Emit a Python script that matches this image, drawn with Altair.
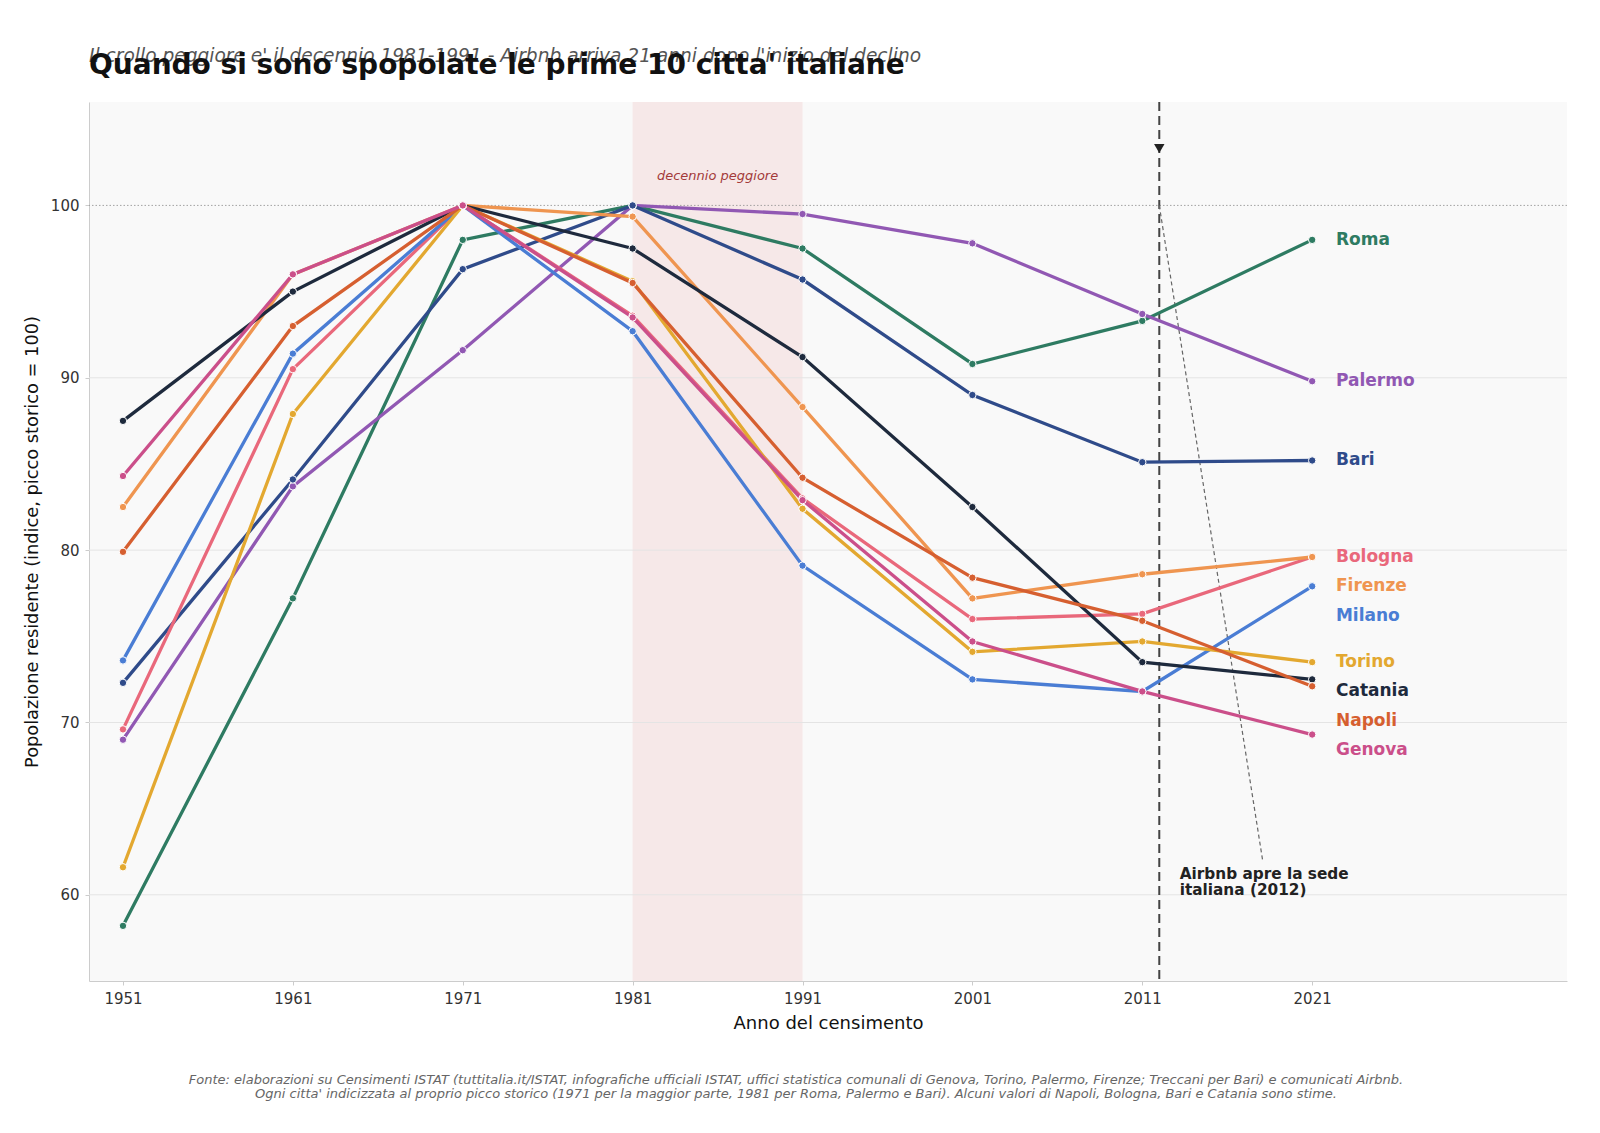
import altair as alt
import pandas as pd

# Census years and population index (historic peak = 100) per city
years = [1951, 1961, 1971, 1981, 1991, 2001, 2011, 2021]

cities = ["Roma", "Palermo", "Bari", "Bologna", "Firenze", "Milano",
          "Torino", "Catania", "Napoli", "Genova"]

colors = ["#2e7b62", "#9158b3", "#2f4b8a", "#e9687b", "#ef9550", "#4a7dd4",
          "#e3a830", "#1e2a3d", "#d65f30", "#cb4f8a"]

roma = [58.2, 77.2, 98.0, 100.0, 97.5, 90.8, 93.3, 98.0]
palermo = [69.0, 83.7, 91.6, 100.0, 99.5, 97.8, 93.7, 89.8]
bari = [72.3, 84.1, 96.3, 100.0, 95.7, 89.0, 85.1, 85.2]
bologna = [69.6, 90.5, 100.0, 93.6, 83.0, 76.0, 76.3, 79.6]
firenze = [82.5, 96.0, 100.0, 99.35, 88.3, 77.2, 78.6, 79.6]
milano = [73.6, 91.4, 100.0, 92.7, 79.1, 72.5, 71.8, 77.9]
torino = [61.6, 87.9, 100.0, 95.6, 82.4, 74.1, 74.7, 73.5]
catania = [87.5, 95.0, 100.0, 97.5, 91.2, 82.5, 73.5, 72.5]
napoli = [79.9, 93.0, 100.0, 95.5, 84.2, 78.4, 75.9, 72.1]
genova = [84.3, 96.0, 100.0, 93.5, 82.9, 74.7, 71.8, 69.3]

series = [roma, palermo, bari, bologna, firenze, milano,
          torino, catania, napoli, genova]

gridlines = [60, 70, 80, 90]
y_ticks = [60, 70, 80, 90, 100]
peak_line = [100]
worst_decade = [1981, 1991]
airbnb_year = 2012

title = "Quando si sono spopolate le prime 10 citta' italiane"
subtitle = ("Il crollo peggiore e' il decennio 1981-1991 - "
            "Airbnb arriva 21 anni dopo l'inizio del declino")
footer = [
    "Fonte: elaborazioni su Censimenti ISTAT (tuttitalia.it/ISTAT, infografiche ufficiali ISTAT, "
    "uffici statistica comunali di Genova, Torino, Palermo, Firenze; Treccani per Bari) e comunicati Airbnb.",
    "Ogni citta' indicizzata al proprio picco storico (1971 per la maggior parte, 1981 per Roma, "
    "Palermo e Bari). Alcuni valori di Napoli, Bologna, Bari e Catania sono stime.",
]

FONT = "DejaVu Sans"

rows = []
for city, vals in zip(cities, series):
    for yr, v in zip(years, vals):
        rows.append({"city": city, "year": yr, "value": v})
df = pd.DataFrame(rows)

# End-of-line labels, pushed apart so they don't overlap
ends = sorted(((vals[-1], c) for c, vals in zip(cities, series)), key=lambda t: -t[0])
label_rows = []
prev = None
gap = 1.7
for v, c in ends:
    p = v if prev is None else min(v, prev - gap)
    label_rows.append({"city": c, "year": 2022.4, "value": p})
    prev = p
labels_df = pd.DataFrame(label_rows)

W, H = 1478, 879
x_scale = alt.Scale(domain=[1949, 2036], nice=False, zero=False)
y_scale = alt.Scale(domain=[55, 106], nice=False, zero=False)
color_scale = alt.Scale(domain=cities, range=colors)

x_axis = alt.Axis(
    values=years, format="d", title="Anno del censimento", grid=False,
    domainColor="#cccccc", tickColor="#cccccc", tickSize=4,
    labelFont=FONT, labelFontSize=15, labelColor="#333333", labelPadding=6,
    titleFont=FONT, titleFontSize=18, titleFontWeight="normal", titleColor="#111111",
    titlePadding=8)
y_axis = alt.Axis(
    values=y_ticks, title="Popolazione residente (indice, picco storico = 100)",
    grid=False, domainColor="#cccccc", tickColor="#cccccc", tickSize=4,
    labelFont=FONT, labelFontSize=15, labelColor="#333333", labelPadding=6,
    titleFont=FONT, titleFontSize=17.8, titleFontWeight="normal", titleColor="#111111",
    titlePadding=9)

x_enc = alt.X("year:Q", scale=x_scale, axis=x_axis)
y_enc = alt.Y("value:Q", scale=y_scale, axis=y_axis)

# Worst decade band
band = alt.Chart(pd.DataFrame({"year": [worst_decade[0]], "year2": [worst_decade[1]]})).mark_rect(
    color="#f0c0c0", opacity=0.3
).encode(x=x_enc, x2="year2:Q", y=alt.value(0), y2=alt.value(H))

band_label = alt.Chart(pd.DataFrame({"year": [sum(worst_decade) / 2], "value": [101.7],
                                     "t": ["decennio peggiore"]})).mark_text(
    font=FONT, fontSize=13, fontStyle="italic", color="#a33a3a"
).encode(x=x_enc, y=y_enc, text="t:N")

grid = alt.Chart(pd.DataFrame({"value": gridlines})).mark_rule(
    color="#e4e4e4", strokeWidth=1
).encode(y=y_enc)

peak = alt.Chart(pd.DataFrame({"value": peak_line})).mark_rule(
    color="#9a9a9a", strokeWidth=0.9, strokeDash=[1.5, 2]
).encode(y=y_enc)

# Airbnb marker
airbnb = alt.Chart(pd.DataFrame({"year": [airbnb_year]})).mark_rule(
    color="#444444", strokeWidth=2, strokeDash=[9, 5]
).encode(x=x_enc, y=alt.value(0), y2=alt.value(H))

airbnb_tip = alt.Chart(pd.DataFrame({"year": [airbnb_year], "value": [103.3]})).mark_point(
    shape="triangle-down", filled=True, size=110, color="#222222", opacity=1
).encode(x=x_enc, y=y_enc)

leader = alt.Chart(pd.DataFrame({"year": [airbnb_year], "value": [100.0],
                                 "year2": [2018.1], "value2": [61.9]})).mark_rule(
    color="#666666", strokeWidth=1.2, strokeDash=[4, 3]
).encode(x=x_enc, y=y_enc, x2="year2:Q", y2="value2:Q")

airbnb_text = alt.Chart(pd.DataFrame({"year": [2013.2], "value": [61.2],
                                      "t": [["Airbnb apre la sede", "italiana (2012)"]]})).mark_text(
    font=FONT, fontSize=15.3, fontWeight="bold", color="#222222", align="left",
    baseline="middle", lineHeight=16
).encode(x=x_enc, y=y_enc, text="t")

lines = alt.Chart(df).mark_line(strokeWidth=3.3).encode(
    x=x_enc, y=y_enc,
    color=alt.Color("city:N", scale=color_scale, legend=None),
    order=alt.Order("year:Q"),
)

points = alt.Chart(df).mark_circle(size=55, opacity=1, stroke="white", strokeWidth=1).encode(
    x=x_enc, y=y_enc,
    color=alt.Color("city:N", scale=color_scale, legend=None),
)

end_labels = alt.Chart(labels_df).mark_text(
    font=FONT, fontSize=17, fontWeight="bold", align="left", baseline="middle"
).encode(
    x=x_enc, y=y_enc, text="city:N",
    color=alt.Color("city:N", scale=color_scale, legend=None),
)

# Headings and source note, placed relative to the plot area
subtitle_mark = alt.Chart(pd.DataFrame({"t": [subtitle]})).mark_text(
    font=FONT, fontSize=18.6, fontStyle="italic", color="#555555", align="left", baseline="alphabetic"
).encode(x=alt.value(0), y=alt.value(-40), text="t:N")

title_mark = alt.Chart(pd.DataFrame({"t": [title]})).mark_text(
    font=FONT, fontSize=28, fontWeight="bold", color="#111111", align="left", baseline="alphabetic"
).encode(x=alt.value(0), y=alt.value(-28), text="t:N")

footer_mark = alt.Chart(pd.DataFrame({"t": [footer]})).mark_text(
    font=FONT, fontSize=13, fontStyle="italic", color="#666666", align="center",
    baseline="middle", lineHeight=14
).encode(x=alt.value(707), y=alt.value(978), text="t")

chart = alt.layer(
    band, grid, peak, band_label, airbnb, leader, airbnb_tip, airbnb_text,
    lines, points, end_labels, subtitle_mark, title_mark, footer_mark
).properties(
    width=W, height=H, autosize="none",
    padding={"left": 89, "top": 102, "right": 33, "bottom": 152},
    background="white",
).configure_view(fill="#f9f9f9", stroke=None)

chart.save("out.html", embed_options={"renderer": "svg", "actions": False})
